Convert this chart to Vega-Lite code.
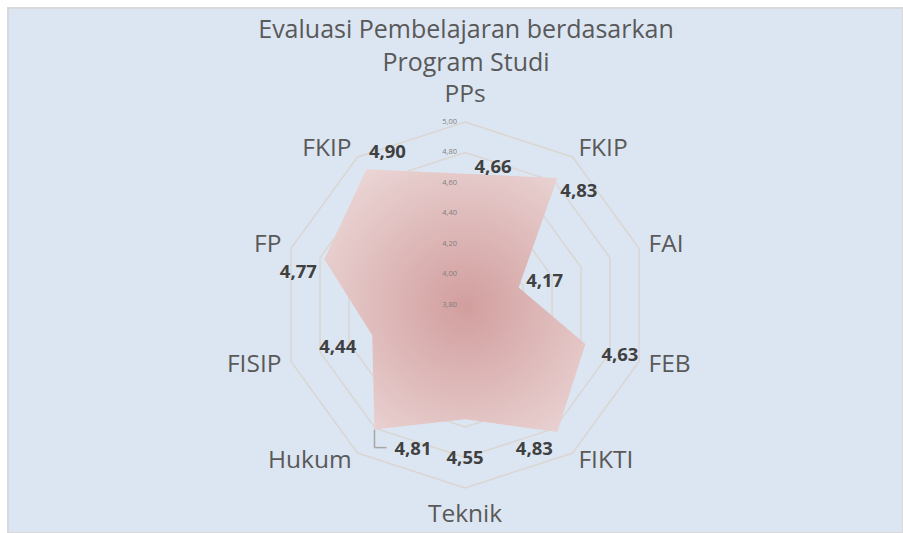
{
  "$schema": "https://vega.github.io/schema/vega-lite/v6.json",
  "width": 895,
  "height": 525,
  "autosize": {"type": "none"},
  "padding": {"left": 8, "top": 8, "right": 0, "bottom": 0},
  "background": "white",
  "config": {
    "view": {"fill": "#dce6f2", "stroke": "#d9d9d9", "strokeWidth": 2},
    "font": "Open Sans"
  },
  "title": {
    "text": ["Evaluasi Pembelajaran berdasarkan", "Program Studi"],
    "font": "Open Sans",
    "fontSize": 25,
    "fontWeight": "normal",
    "color": "#595959",
    "anchor": "middle",
    "frame": "group",
    "lineHeight": 33,
    "offset": -68,
    "dx": 10.5
  },
  "datasets": {
    "prodi": [
      {"idx": 0, "prodi": "PPs", "nilai": 4.66},
      {"idx": 1, "prodi": "FKIP", "nilai": 4.83},
      {"idx": 2, "prodi": "FAI", "nilai": 4.17},
      {"idx": 3, "prodi": "FEB", "nilai": 4.63},
      {"idx": 4, "prodi": "FIKTI", "nilai": 4.83},
      {"idx": 5, "prodi": "Teknik", "nilai": 4.55},
      {"idx": 6, "prodi": "Hukum", "nilai": 4.81},
      {"idx": 7, "prodi": "FISIP", "nilai": 4.44},
      {"idx": 8, "prodi": "FP", "nilai": 4.77},
      {"idx": 9, "prodi": "FKIP", "nilai": 4.90}
    ],
    "ticks": [
      {"tick": 3.8, "k": [0, 1, 2, 3, 4, 5, 6, 7, 8, 9]},
      {"tick": 4.0, "k": [0, 1, 2, 3, 4, 5, 6, 7, 8, 9]},
      {"tick": 4.2, "k": [0, 1, 2, 3, 4, 5, 6, 7, 8, 9]},
      {"tick": 4.4, "k": [0, 1, 2, 3, 4, 5, 6, 7, 8, 9]},
      {"tick": 4.6, "k": [0, 1, 2, 3, 4, 5, 6, 7, 8, 9]},
      {"tick": 4.8, "k": [0, 1, 2, 3, 4, 5, 6, 7, 8, 9]},
      {"tick": 5.0, "k": [0, 1, 2, 3, 4, 5, 6, 7, 8, 9]}
    ]
  },
  "encoding": {
    "x": {"field": "x", "type": "quantitative", "scale": {"domain": [-2.997, 2.872], "nice": false, "zero": false}, "axis": null},
    "y": {"field": "y", "type": "quantitative", "scale": {"domain": [-1.4951, 1.9475], "nice": false, "zero": false}, "axis": null}
  },
  "layer": [
    {
      "data": {"name": "ticks"},
      "transform": [
        {"filter": "datum.tick > 3.9"},
        {"flatten": ["k"]},
        {"calculate": "(datum.tick - 3.8) * sin(2 * PI * datum.k / 10)", "as": "x"},
        {"calculate": "(datum.tick - 3.8) * cos(2 * PI * datum.k / 10)", "as": "y"}
      ],
      "mark": {"type": "line", "interpolate": "linear-closed", "stroke": "#dbd6d1", "strokeWidth": 1.5},
      "encoding": {
        "detail": {"field": "tick", "type": "nominal"},
        "order": {"field": "k", "type": "quantitative"}
      }
    },
    {
      "data": {"name": "prodi"},
      "transform": [
        {"calculate": "(datum.nilai - 3.8) * sin(2 * PI * datum.idx / 10)", "as": "x"},
        {"calculate": "(datum.nilai - 3.8) * cos(2 * PI * datum.idx / 10)", "as": "y"}
      ],
      "mark": {
        "type": "line",
        "interpolate": "linear-closed",
        "strokeWidth": 0,
        "fill": {
          "gradient": "radial",
          "x1": 0.54, "y1": 0.52, "r1": 0,
          "x2": 0.54, "y2": 0.52, "r2": 0.7,
          "stops": [
            {"offset": 0, "color": "#d29e9e"},
            {"offset": 1, "color": "#eddada"}
          ]
        }
      },
      "encoding": {
        "order": {"field": "idx", "type": "quantitative"}
      }
    },
    {
      "data": {"name": "prodi"},
      "transform": [
        {"filter": "datum.idx == 6"},
        {"calculate": "(datum.nilai - 3.8) * sin(2 * PI * datum.idx / 10)", "as": "x"},
        {"calculate": "(datum.nilai - 3.8) * cos(2 * PI * datum.idx / 10)", "as": "y"},
        {"calculate": "datum.y - 18 / 152.5", "as": "y2"}
      ],
      "mark": {"type": "rule", "stroke": "#a6a6a6", "strokeWidth": 1.5},
      "encoding": {"y2": {"field": "y2"}}
    },
    {
      "data": {"name": "prodi"},
      "transform": [
        {"filter": "datum.idx == 6"},
        {"calculate": "(datum.nilai - 3.8) * sin(2 * PI * datum.idx / 10)", "as": "x"},
        {"calculate": "(datum.nilai - 3.8) * cos(2 * PI * datum.idx / 10) - 18 / 152.5", "as": "y"},
        {"calculate": "datum.x + 12 / 152.5", "as": "x2"}
      ],
      "mark": {"type": "rule", "stroke": "#a6a6a6", "strokeWidth": 1.5},
      "encoding": {"x2": {"field": "x2"}}
    },
    {
      "data": {"name": "prodi"},
      "transform": [
        {"calculate": "[28, 21.5, 26, 34.5, -23, 0, 38.5, -34.5, -26, 21][datum.idx]", "as": "ox"},
        {"calculate": "[-7, 13, -7, 11, 17, 39, 19, 12, 13, -17][datum.idx]", "as": "oy"},
        {"calculate": "(datum.nilai - 3.8) * sin(2 * PI * datum.idx / 10) + datum.ox / 152.5", "as": "x"},
        {"calculate": "(datum.nilai - 3.8) * cos(2 * PI * datum.idx / 10) - datum.oy / 152.5", "as": "y"},
        {"calculate": "replace(format(datum.nilai, '.2f'), '.', ',')", "as": "lab"}
      ],
      "mark": {"type": "text", "font": "Open Sans", "fontSize": 18.5, "fontWeight": "bold", "color": "#404040", "align": "center", "baseline": "middle"},
      "encoding": {"text": {"field": "lab", "type": "nominal"}}
    },
    {
      "data": {"name": "prodi"},
      "transform": [
        {"filter": "datum.idx >= 1 && datum.idx <= 4"},
        {"calculate": "(1.2 + 10 / 152.5) * sin(2 * PI * datum.idx / 10)", "as": "x"},
        {"calculate": "(1.2 + 10 / 152.5) * cos(2 * PI * datum.idx / 10)", "as": "y"}
      ],
      "mark": {"type": "text", "font": "Open Sans", "fontSize": 24.5, "color": "#595959", "align": "left", "baseline": "middle"},
      "encoding": {"text": {"field": "prodi", "type": "nominal"}}
    },
    {
      "data": {"name": "prodi"},
      "transform": [
        {"filter": "datum.idx >= 6"},
        {"calculate": "(1.2 + 10 / 152.5) * sin(2 * PI * datum.idx / 10)", "as": "x"},
        {"calculate": "(1.2 + 10 / 152.5) * cos(2 * PI * datum.idx / 10)", "as": "y"}
      ],
      "mark": {"type": "text", "font": "Open Sans", "fontSize": 24.5, "color": "#595959", "align": "right", "baseline": "middle"},
      "encoding": {"text": {"field": "prodi", "type": "nominal"}}
    },
    {
      "data": {"name": "prodi"},
      "transform": [
        {"filter": "datum.idx == 0 || datum.idx == 5"},
        {"calculate": "(1.2 + 27 / 152.5) * sin(2 * PI * datum.idx / 10)", "as": "x"},
        {"calculate": "(1.2 + 27 / 152.5) * cos(2 * PI * datum.idx / 10)", "as": "y"}
      ],
      "mark": {"type": "text", "font": "Open Sans", "fontSize": 24.5, "color": "#595959", "align": "center", "baseline": "middle"},
      "encoding": {"text": {"field": "prodi", "type": "nominal"}}
    },
    {
      "data": {"name": "ticks"},
      "transform": [
        {"calculate": "0", "as": "x"},
        {"calculate": "datum.tick - 3.8", "as": "y"},
        {"calculate": "replace(format(datum.tick, '.2f'), '.', ',')", "as": "lab"}
      ],
      "mark": {"type": "text", "font": "Open Sans", "fontSize": 7.5, "color": "#808080", "align": "right", "baseline": "middle", "dx": -8},
      "encoding": {"text": {"field": "lab", "type": "nominal"}}
    }
  ]
}
